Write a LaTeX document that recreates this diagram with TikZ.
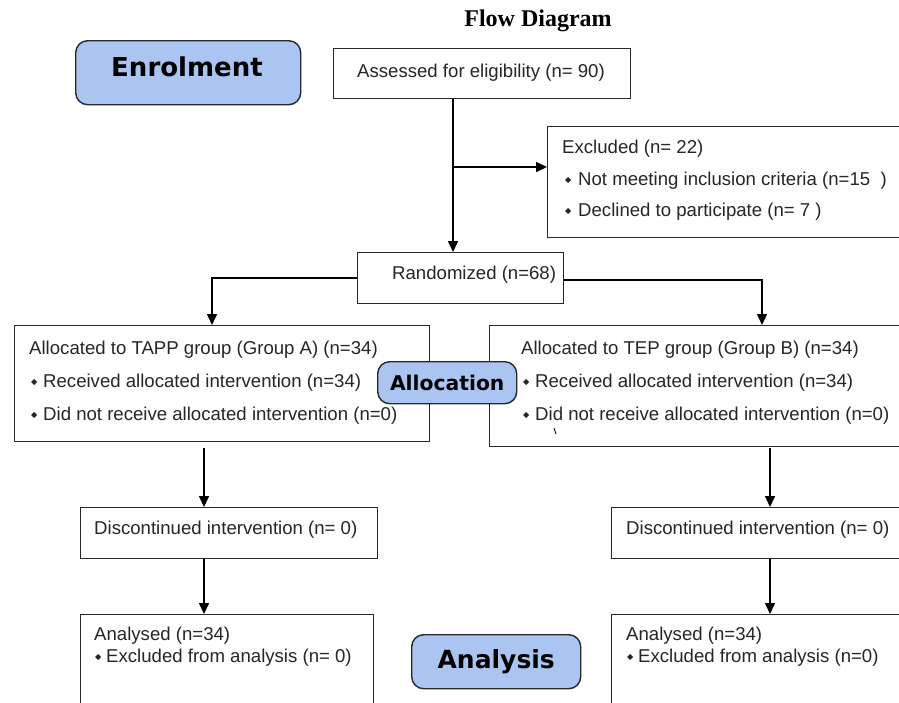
\documentclass[tikz,border=0pt]{standalone}
\usepackage{fontspec}
\setmainfont{Liberation Sans}
\newfontfamily\titlefont{Liberation Serif}
\newfontfamily\labfont{DejaVu Sans}
\usetikzlibrary{arrows.meta}
\definecolor{stagefill}{RGB}{170,197,242}
\definecolor{edge}{RGB}{40,40,40}
\newcommand{\bul}{\tikz[baseline=0pt]\fill (0,5pt) -- (3pt,8pt) -- (6pt,5pt) -- (3pt,2pt) -- cycle;}
\tikzset{
  box/.style={draw=edge, line width=1.4pt, fill=white, rectangle, inner sep=0pt, anchor=north west},
  stage/.style={draw=edge, line width=1.4pt, fill=stagefill, rounded corners=12pt, inner sep=0pt, anchor=north west},
  stagetext/.style={font=\labfont\bfseries, text=black, inner sep=0pt},
  txt/.style={font=\fontsize{18.6}{20}\selectfont, anchor=base west, inner sep=0pt, text=black!85},
  arr/.style={draw=black, line width=1.5pt, -{Triangle[length=11pt,width=10pt]}},
  ln/.style={draw=black, line width=1.5pt}
}
\begin{document}
\begin{tikzpicture}[x=1pt,y=-1pt]
\useasboundingbox (0,0) rectangle (899,702);
\clip (0,0) rectangle (899,702);
\fill[white] (0,0) rectangle (899,702);

% title
\node[font=\titlefont\bfseries\fontsize{24}{26}\selectfont, inner sep=0pt] (title) at (538,21) {Flow Diagram};

% stage labels
\node[stage, minimum width=225pt, minimum height=64pt] (enrol) at (75,40) {};
\node[stagetext, font=\labfont\bfseries\fontsize{26}{28}\selectfont] (enrolt) at (187,67) {Enrolment};

% boxes
\node[box, minimum width=297pt, minimum height=50pt] (assess) at (333,48) {};
\node[txt] (assesst) at (357,77) {Assessed for eligibility (n= 90)};

\node[box, minimum width=360pt, minimum height=111pt] (excl) at (547,126) {};
\node[txt] (exclt1) at (562,153) {Excluded (n= 22)};
\node[txt] (exclt2) at (565,185) {\bul\hspace{7pt}Not meeting inclusion criteria (n=15\ \ )};
\node[txt] (exclt3) at (565,216) {\bul\hspace{7pt}Declined to participate (n= 7 )};

\node[box, minimum width=206pt, minimum height=51pt] (rand) at (357,252) {};
\node[txt] (randt) at (392,279) {Randomized (n=68)};

\node[box, minimum width=415pt, minimum height=116pt] (grpA) at (14,325) {};
\node[txt] (grpAt1) at (29,354) {Allocated to TAPP group (Group A) (n=34)};
\node[txt] (grpAt2) at (31,387) {\bul\hspace{6pt}Received allocated intervention (n=34)};
\node[txt] (grpAt3) at (31,420) {\bul\hspace{6pt}Did not receive allocated intervention (n=0)};

\node[box, minimum width=420pt, minimum height=121pt] (grpB) at (489,325) {};
\node[txt] (grpBt1) at (521,354) {Allocated to TEP group (Group B) (n=34)};
\node[txt] (grpBt2) at (523,387) {\bul\hspace{6pt}Received allocated intervention (n=34)};
\node[txt] (grpBt3) at (523,420) {\bul\hspace{6pt}Did not receive allocated intervention (n=0)};
\coordinate (tickA) at (554,428);
\coordinate (tickB) at (556,434);
\draw[line width=0.8pt] (tickA) -- (tickB);

\node[stage, minimum width=139pt, minimum height=42pt] (alloc) at (377,361) {};
\node[stagetext, font=\labfont\bfseries\fontsize{20.3}{22}\selectfont] (alloct) at (alloc.center) {Allocation};

\node[box, minimum width=297pt, minimum height=51pt] (discA) at (80,507) {};
\node[txt] (discAt) at (94,534) {Discontinued intervention (n= 0)};
\node[box, minimum width=300pt, minimum height=51pt] (discB) at (611,507) {};
\node[txt] (discBt) at (626,534) {Discontinued intervention (n= 0)};

\node[box, minimum width=293pt, minimum height=110pt] (anaA) at (80,614) {};
\node[txt] (anaAt1) at (94,640) {Analysed (n=34)};
\node[txt] (anaAt2) at (95,662) {\bul\hspace{5pt}Excluded from analysis (n= 0)};
\node[box, minimum width=300pt, minimum height=110pt] (anaB) at (611,614) {};
\node[txt] (anaBt1) at (626,640) {Analysed (n=34)};
\node[txt] (anaBt2) at (627,662) {\bul\hspace{5pt}Excluded from analysis (n=0)};

\node[stage, minimum width=169pt, minimum height=54pt] (anal) at (411,634) {};
\node[stagetext, font=\labfont\bfseries\fontsize{25}{27}\selectfont] (analt) at (anal.center) {Analysis};

% connectors
\coordinate (br) at (453,167);
\draw[arr] (assess.south -| br) -- (rand.north -| br);
\draw[arr] (br) -- (excl.west |- br);
\coordinate (lA) at (212,277);
\coordinate (lB) at (762,280);
\draw[arr] (rand.west) -- (rand.west -| lA) -- (grpA.north -| lA);
\draw[arr] (rand.east |- lB) -- (lB) -- (grpB.north -| lB);
\coordinate (cA) at (204,448);
\coordinate (cB) at (770,448);
\draw[arr] (cA) -- (discA.north -| cA);
\draw[arr] (discA.south -| cA) -- (anaA.north -| cA);
\draw[arr] (cB) -- (discB.north -| cB);
\draw[arr] (discB.south -| cB) -- (anaB.north -| cB);
\end{tikzpicture}
\end{document}
